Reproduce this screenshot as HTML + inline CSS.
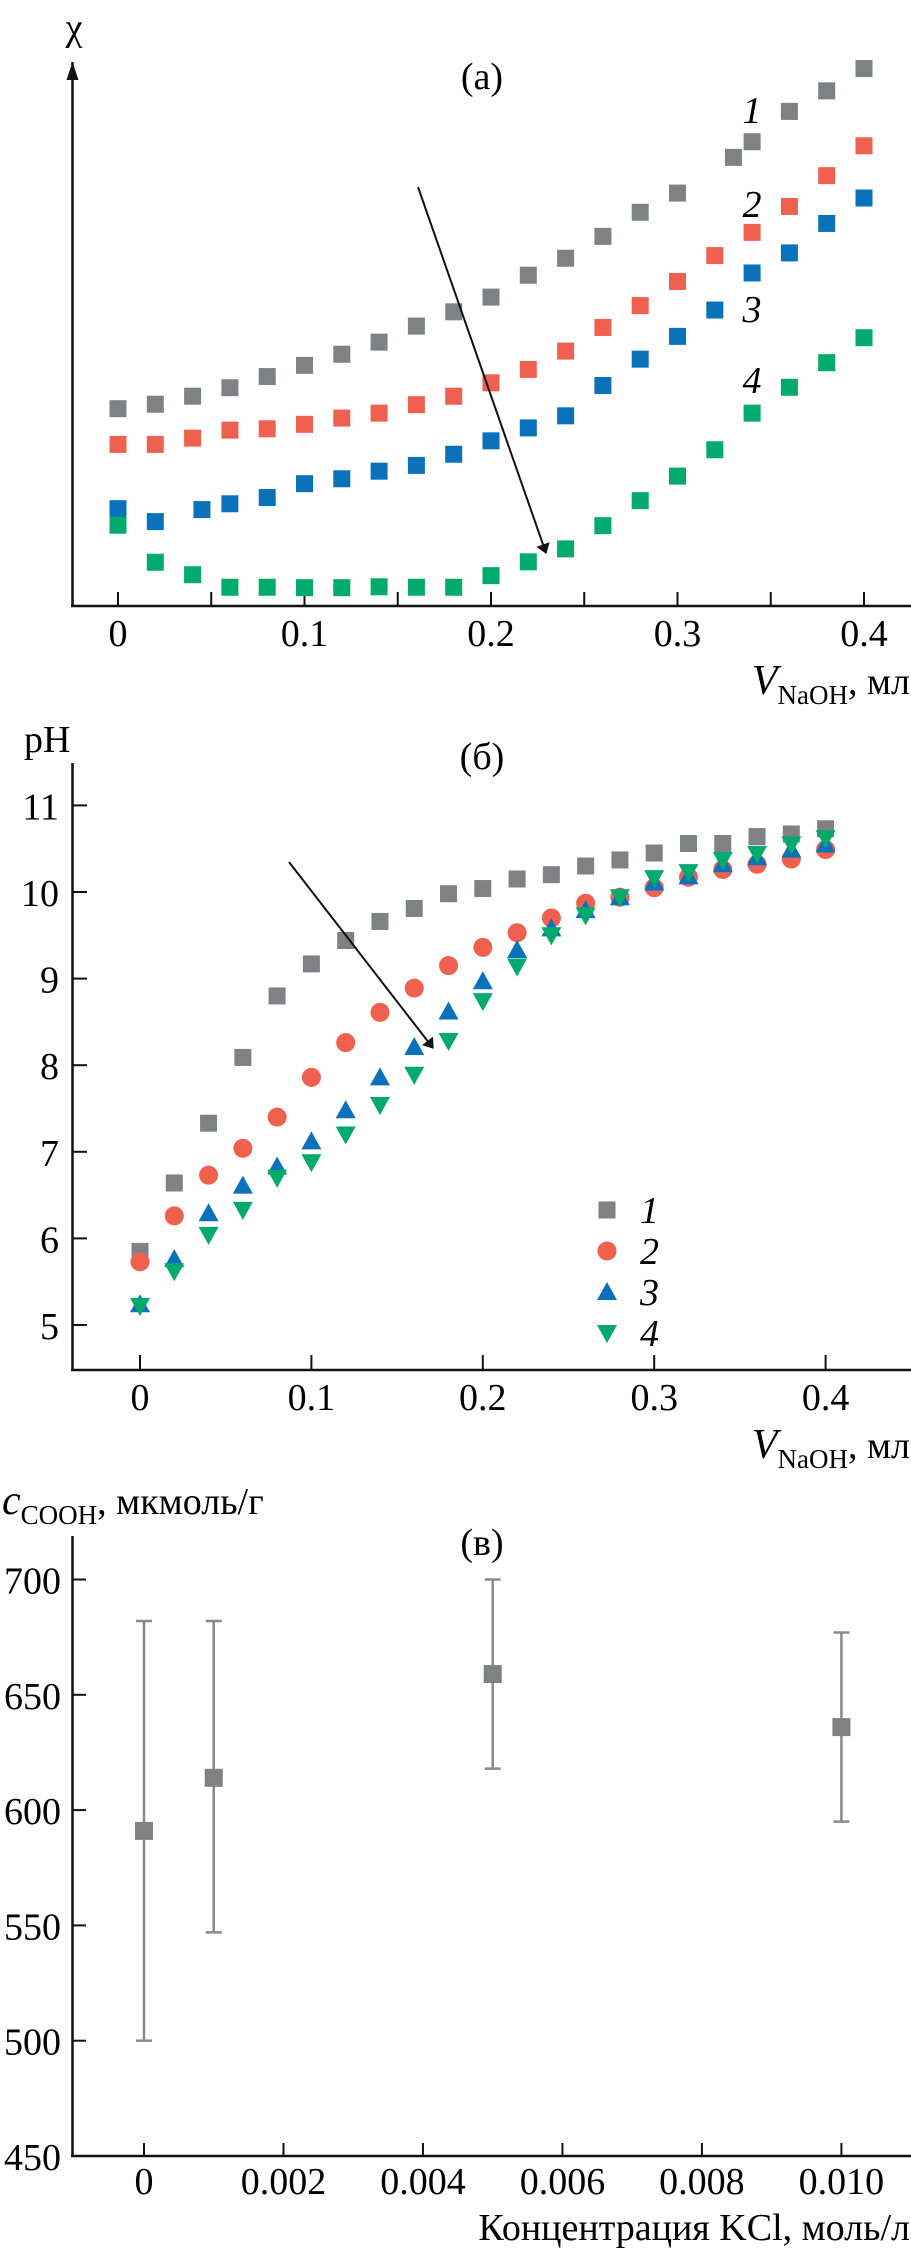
<!DOCTYPE html>
<html><head><meta charset="utf-8">
<style>
html,body{margin:0;padding:0;background:#fff;}
svg{display:block;font-family:"Liberation Serif",serif;}
</style></head>
<body>
<svg id="fig" width="911" height="2258" viewBox="0 0 911 2258">
<defs>
<marker id="ah" markerWidth="10" markerHeight="14" refX="9" refY="7" orient="auto" markerUnits="userSpaceOnUse"><path d="M0,0 L10,7 L0,14 Z" fill="#111"/></marker>
<marker id="ahUp" markerWidth="14" markerHeight="18" refX="7" refY="0" orient="0" markerUnits="userSpaceOnUse"><path d="M7,0 L13,18 L1,18 Z" fill="#111"/></marker>
</defs>
<g id="pa"></g>
<g id="pb"></g>
<g id="pc"></g>
</svg>
<script>
// ---- Panel (a) data ----
const aX1 = [0,0.02,0.04,0.06,0.08,0.1,0.12,0.14,0.16,0.18,0.2,0.22,0.24,0.26,0.28,0.3,0.33,0.34,0.36,0.38,0.4];
const aChi1 = [44.2,45.2,47,48.9,51.4,53.9,56.4,59.1,62.7,65.9,69.2,74.1,77.9,82.8,88.2,92.5,100.5,104,110.8,115.4,120.4];
const aX2 = [0,0.02,0.04,0.06,0.08,0.1,0.12,0.14,0.16,0.18,0.2,0.22,0.24,0.26,0.28,0.3,0.32,0.34,0.36,0.38,0.4];
const aChi2 = [36.2,36.2,37.6,39.4,39.7,40.7,42.1,43.2,45.1,47,50,53,57.1,62.4,67.3,72.7,78.5,83.7,89.5,96.4,103.1];
const aX3 = [0,0.02,0.045,0.06,0.08,0.1,0.12,0.14,0.16,0.18,0.2,0.22,0.24,0.26,0.28,0.3,0.32,0.34,0.36,0.38,0.4];
const aChi3 = [21.8,18.9,21.6,22.9,24.3,27.4,28.5,30.2,31.5,34,37,39.9,42.6,49.4,55.3,60.4,66.3,74.6,79.1,85.7,91.4];
const aX4 = [0,0.02,0.04,0.06,0.08,0.1,0.12,0.14,0.16,0.18,0.2,0.22,0.24,0.26,0.28,0.3,0.32,0.34,0.36,0.38,0.4];
const aChi4 = [18.1,9.8,7,4.2,4.2,4.1,4.1,4.3,4.2,4.2,6.8,9.9,12.8,18,23.6,29.1,35,43.2,49,54.5,60.1];
const aTicks = [0,0.1,0.2,0.3,0.4];
const aTickLabels = ["0","0.1","0.2","0.3","0.4"];
// ---- Panel (b) data ----
const bX = [0,0.02,0.04,0.06,0.08,0.1,0.12,0.14,0.16,0.18,0.2,0.22,0.24,0.26,0.28,0.3,0.32,0.34,0.36,0.38,0.4];
const bPH1 = [5.85,6.64,7.33,8.09,8.8,9.17,9.44,9.66,9.81,9.98,10.04,10.15,10.2,10.3,10.37,10.45,10.56,10.56,10.64,10.67,10.73];
const bPH2 = [5.73,6.26,6.73,7.04,7.4,7.86,8.26,8.61,8.89,9.15,9.36,9.53,9.7,9.87,9.94,10.05,10.17,10.26,10.32,10.38,10.49];
const bPH3 = [5.24,5.76,6.29,6.61,6.83,7.12,7.48,7.86,8.21,8.62,8.97,9.33,9.58,9.79,9.94,10.11,10.18,10.32,10.4,10.49,10.55];
const bPH4 = [5.22,5.62,6.04,6.33,6.7,6.88,7.2,7.54,7.89,8.28,8.74,9.14,9.5,9.73,9.94,10.16,10.23,10.37,10.44,10.55,10.62];
const bYTicks = [5,6,7,8,9,10,11];
const bXTicks = [0,0.1,0.2,0.3,0.4];
const bXTickLabels = ["0","0.1","0.2","0.3","0.4"];
// ---- Panel (c) data ----
const cConc = [0,0.001,0.005,0.010];
const cVal = [591,614,659,636];
const cLow = [500,547,618,595];
const cHigh = [682,682,700,677];
const cYTicks = [450,500,550,600,650,700];
const cXTicks = [0,0.002,0.004,0.006,0.008,0.010];
const cXTickLabels = ["0","0.002","0.004","0.006","0.008","0.010"];

const NS="http://www.w3.org/2000/svg";
const COL={g:"#808185",r:"#f0604e",b:"#0a72bb",gr:"#00ab6c"};
const FS=38;
function mk(parent,tag,attrs,text){const e=document.createElementNS(NS,tag);for(const k in attrs)e.setAttribute(k,attrs[k]);if(text!==undefined)e.textContent=text;parent.appendChild(e);return e;}
const VLABEL='<tspan font-style="italic" font-size="42">V</tspan><tspan font-size="27" dy="10">NaOH</tspan><tspan dy="-10">, мл</tspan>';

// ===== Panel A =====
const pa=document.getElementById('pa');
const axA=x=>118+x*1865; const ayA=v=>606-v*4.464;
let e;
e=mk(pa,'line',{x1:72.5,y1:606,x2:72.5,y2:62,stroke:'#111','stroke-width':2.5,'marker-end':'url(#ahUp)'});

e=mk(pa,'line',{x1:71,y1:606,x2:911,y2:606,stroke:'#111','stroke-width':2.5});

for(let i=0;i<9;i++){const v=i*0.05;e=mk(pa,'line',{x1:axA(v),y1:606,x2:axA(v),y2:592,stroke:'#111','stroke-width':2});
}
aTicks.forEach((t,i)=>{e=mk(pa,'text',{x:axA(t),y:646,'font-size':FS,'text-anchor':'middle'},aTickLabels[i]);
});
e=mk(pa,'text',{x:74,y:40,'font-size':38,'text-anchor':'middle'},'χ');

e=mk(pa,'text',{x:482,y:89,'font-size':FS,'text-anchor':'middle'},'(а)');

e=mk(pa,'text',{x:910,y:694,'font-size':FS,'text-anchor':'end'});

e.innerHTML=VLABEL;
[[aX1,aChi1,COL.g],[aX2,aChi2,COL.r],[aX3,aChi3,COL.b],[aX4,aChi4,COL.gr]].forEach((s,si)=>{
  s[0].forEach((x,i)=>{e=mk(pa,'rect',{x:axA(x)-8.5,y:ayA(s[1][i])-8.5,width:17,height:17,fill:s[2]});
  });
});
[['1',109],['2',203],['3',308],['4',379]].forEach(l=>{e=mk(pa,'text',{x:752,y:l[1]+14,'font-size':FS,'font-style':'italic','text-anchor':'middle'},l[0]);
});
e=mk(pa,'line',{x1:418,y1:187,x2:546,y2:553,stroke:'#111','stroke-width':2,'marker-end':'url(#ah)'});


// ===== Panel B =====
const pb=document.getElementById('pb');
const axB=x=>140+x*1714; const ayB=v=>1325-(v-5)*86.6;
e=mk(pb,'line',{x1:72.5,y1:763,x2:72.5,y2:1371,stroke:'#111','stroke-width':2.5});

e=mk(pb,'line',{x1:71,y1:1370,x2:911,y2:1370,stroke:'#111','stroke-width':2.5});

bYTicks.forEach(t=>{e=mk(pb,'line',{x1:72,y1:ayB(t),x2:87,y2:ayB(t),stroke:'#111','stroke-width':2});

e=mk(pb,'text',{x:59,y:ayB(t)+14,'font-size':FS,'text-anchor':'end'},String(t));
});
bXTicks.forEach((t,i)=>{e=mk(pb,'line',{x1:axB(t),y1:1370,x2:axB(t),y2:1355,stroke:'#111','stroke-width':2});

e=mk(pb,'text',{x:axB(t),y:1410,'font-size':FS,'text-anchor':'middle'},bXTickLabels[i]);
});
e=mk(pb,'text',{x:24,y:752,'font-size':FS},'pH');

e=mk(pb,'text',{x:482,y:769,'font-size':FS,'text-anchor':'middle'},'(б)');

e=mk(pb,'text',{x:910,y:1458,'font-size':FS,'text-anchor':'end'});

e.innerHTML=VLABEL;
function marker(g,type,cx,cy,color){
  if(type==='sq') return mk(g,'rect',{x:cx-8.5,y:cy-8.5,width:17,height:17,fill:color});
  if(type==='ci') return mk(g,'circle',{cx:cx,cy:cy,r:9.5,fill:color});
  if(type==='up') return mk(g,'polygon',{points:`${cx},${cy-10} ${cx+10},${cy+8} ${cx-10},${cy+8}`,fill:color});
  return mk(g,'polygon',{points:`${cx-10},${cy-8} ${cx+10},${cy-8} ${cx},${cy+10}`,fill:color});
}
[[bPH1,'sq',COL.g],[bPH2,'ci',COL.r],[bPH3,'up',COL.b],[bPH4,'dn',COL.gr]].forEach((s,si)=>{
  bX.forEach((x,i)=>{e=marker(pb,s[1],axB(x),ayB(s[0][i]),s[2]);
  });
});
[['sq',COL.g,'1',1210],['ci',COL.r,'2',1251],['up',COL.b,'3',1292],['dn',COL.gr,'4',1333]].forEach(l=>{
  e=marker(pb,l[0],607,l[3],l[1]);
  e=mk(pb,'text',{x:640,y:l[3]+13,'font-size':FS,'font-style':'italic'},l[2]);
  
});
e=mk(pb,'line',{x1:289,y1:862,x2:433,y2:1048,stroke:'#111','stroke-width':2,'marker-end':'url(#ah)'});


// ===== Panel C =====
const pc=document.getElementById('pc');
const axC=x=>144+x*69740; const ayC=v=>2156-(v-450)*2.306;
e=mk(pc,'line',{x1:72.5,y1:1536,x2:72.5,y2:2157,stroke:'#111','stroke-width':2.5});

e=mk(pc,'line',{x1:71,y1:2156,x2:911,y2:2156,stroke:'#111','stroke-width':2.5});

cYTicks.forEach(t=>{e=mk(pc,'line',{x1:72,y1:ayC(t),x2:86,y2:ayC(t),stroke:'#111','stroke-width':2});

e=mk(pc,'text',{x:61,y:ayC(t)+14,'font-size':FS,'text-anchor':'end'},String(t));
});
cXTicks.forEach((t,i)=>{e=mk(pc,'line',{x1:axC(t),y1:2156,x2:axC(t),y2:2143,stroke:'#111','stroke-width':2});

e=mk(pc,'text',{x:axC(t),y:2194,'font-size':FS,'text-anchor':'middle'},cXTickLabels[i]);
});
e=mk(pc,'text',{x:2,y:1514,'font-size':FS});

e.innerHTML='<tspan font-style="italic" font-size="42">c</tspan><tspan font-size="27" dy="10">COOH</tspan><tspan dy="-10">, мкмоль/г</tspan>';
e=mk(pc,'text',{x:482,y:1555,'font-size':FS,'text-anchor':'middle'},'(в)');

e=mk(pc,'text',{x:910,y:2240,'font-size':FS,'text-anchor':'end'},'Концентрация KCl, моль/л');

cConc.forEach((c,i)=>{
  const x=axC(c);
  e=mk(pc,'line',{x1:x,y1:ayC(cLow[i]),x2:x,y2:ayC(cHigh[i]),stroke:'#8a8a8a','stroke-width':2.5});
  
  e=mk(pc,'line',{x1:x-8,y1:ayC(cLow[i]),x2:x+8,y2:ayC(cLow[i]),stroke:'#8a8a8a','stroke-width':2.5});
  
  e=mk(pc,'line',{x1:x-8,y1:ayC(cHigh[i]),x2:x+8,y2:ayC(cHigh[i]),stroke:'#8a8a8a','stroke-width':2.5});
  
  e=mk(pc,'rect',{x:x-9,y:ayC(cVal[i])-9,width:18,height:18,fill:COL.g});
  
});
</script>
</body></html>
